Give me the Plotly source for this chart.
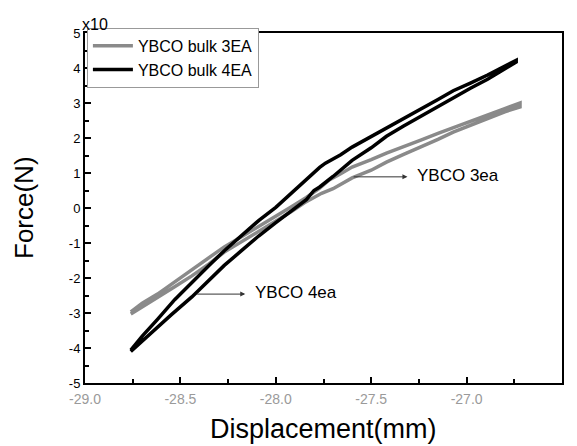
import plotly.graph_objects as go

# ---- data (force in units of x10 N) ----
# YBCO bulk 4EA : out along lower branch, back along upper branch
x4_lower = [-28.76, -28.70, -28.62, -28.55, -28.44, -28.35, -28.27, -28.18, -28.09, -28.00,
            -27.92, -27.84, -27.80, -27.77, -27.70, -27.60, -27.50, -27.42, -27.33, -27.24,
            -27.15, -27.07, -26.98, -26.89, -26.81, -26.74]
f4_lower = [-4.10, -3.80, -3.41, -3.06, -2.54, -2.08, -1.64, -1.22, -0.80, -0.42,
            -0.08, 0.24, 0.50, 0.60, 0.90, 1.36, 1.72, 2.05, 2.34, 2.62,
            2.90, 3.15, 3.42, 3.68, 3.93, 4.17]
x4_upper = [-26.74, -26.81, -26.89, -26.98, -27.07, -27.15, -27.24, -27.33, -27.42, -27.50,
            -27.60, -27.66, -27.70, -27.74, -27.77, -27.84, -27.92, -28.00, -28.09, -28.18,
            -28.27, -28.35, -28.44, -28.53, -28.62, -28.70, -28.76]
f4_upper = [4.22, 4.02, 3.80, 3.57, 3.35, 3.10, 2.83, 2.56, 2.29, 2.05,
            1.74, 1.52, 1.40, 1.28, 1.16, 0.82, 0.42, 0.02, -0.36, -0.78,
            -1.22, -1.64, -2.14, -2.62, -3.18, -3.66, -4.06]

# YBCO bulk 3EA
x3_lower = [-28.76, -28.70, -28.62, -28.53, -28.44, -28.35, -28.27, -28.18, -28.09, -28.00,
            -27.92, -27.85, -27.80, -27.76, -27.70, -27.60, -27.50, -27.42, -27.33, -27.24,
            -27.15, -27.07, -26.98, -26.89, -26.80, -26.72]
f3_lower = [-3.03, -2.83, -2.57, -2.25, -1.94, -1.60, -1.26, -0.96, -0.66, -0.38,
            -0.11, 0.15, 0.30, 0.42, 0.55, 0.86, 1.08, 1.31, 1.53, 1.74,
            1.96, 2.17, 2.37, 2.57, 2.75, 2.89]
x3_upper = [-26.72, -26.80, -26.89, -26.98, -27.07, -27.15, -27.24, -27.33, -27.42, -27.50,
            -27.60, -27.66, -27.72, -27.77, -27.84, -27.92, -28.00, -28.09, -28.18, -28.27,
            -28.35, -28.44, -28.53, -28.62, -28.70, -28.76]
f3_upper = [3.00, 2.84, 2.66, 2.48, 2.31, 2.13, 1.94, 1.76, 1.57, 1.38,
            1.17, 0.98, 0.80, 0.57, 0.30, 0.03, -0.24, -0.54, -0.82, -1.11,
            -1.42, -1.77, -2.10, -2.46, -2.72, -2.97]

x_ticks = [-29.0, -28.5, -28.0, -27.5, -27.0, -26.5]
y_ticks = [-5, -4, -3, -2, -1, 0, 1, 2, 3, 4, 5]

FONT = "Arial, Liberation Sans"

fig = go.Figure()
fig.add_trace(go.Scatter(x=x3_lower + x3_upper, y=f3_lower + f3_upper, mode="lines",
                         name="YBCO bulk 3EA", line=dict(color="#8a8a8a", width=3.5)))
fig.add_trace(go.Scatter(x=x4_lower + x4_upper, y=f4_lower + f4_upper, mode="lines",
                         name="YBCO bulk 4EA", line=dict(color="#000000", width=3.5)))

axis_common = dict(showgrid=False, zeroline=False, showline=True, linecolor="black",
                   linewidth=2, mirror=True, ticks="inside", ticklen=6, tickwidth=1.5,
                   tickcolor="black", automargin=False)

fig.update_xaxes(range=[-29, -26.5], tickvals=x_ticks, ticktext=[f"{v:.1f}" for v in x_ticks],
                 tickfont=dict(family=FONT, size=14, color="#9a9a9a"), ticklabelstandoff=2,
                 minor=dict(ticks="inside", ticklen=4, tickwidth=1.5, tickcolor="black", dtick=0.25),
                 **axis_common)
fig.update_yaxes(range=[-5, 5], tickvals=y_ticks, ticktext=[str(v) for v in y_ticks],
                 tickfont=dict(family=FONT, size=13, color="black"),
                 minor=dict(ticks="inside", ticklen=4, tickwidth=1.5, tickcolor="black", dtick=0.5),
                 **axis_common)

# axis titles as positioned text
fig.add_annotation(x=0.5, y=0, xref="paper", yref="paper", yshift=-46, text="Displacement(mm)",
                   showarrow=False, xanchor="center", yanchor="middle",
                   font=dict(family=FONT, size=27, color="black"))
fig.add_annotation(x=0, y=0.5, xref="paper", yref="paper", xshift=-61, text="Force(N)",
                   showarrow=False, xanchor="center", yanchor="middle", textangle=-90,
                   font=dict(family=FONT, size=26, color="black"))

# arrows and labels
fig.add_annotation(x=-27.31, y=0.89, ax=-27.60, ay=0.89, xref="x", yref="y", axref="x", ayref="y",
                   text="", showarrow=True, arrowhead=2, arrowsize=1, arrowwidth=1, arrowcolor="#333")
fig.add_annotation(x=-27.27, y=0.94, xref="x", yref="y", text="YBCO 3ea", showarrow=False,
                   xanchor="left", yanchor="middle",
                   font=dict(family=FONT, size=17, color="black"))
fig.add_annotation(x=-28.16, y=-2.46, ax=-28.42, ay=-2.46, xref="x", yref="y", axref="x", ayref="y",
                   text="", showarrow=True, arrowhead=2, arrowsize=1, arrowwidth=1, arrowcolor="#333")
fig.add_annotation(x=-28.12, y=-2.40, xref="x", yref="y", text="YBCO 4ea", showarrow=False,
                   xanchor="left", yanchor="middle",
                   font=dict(family=FONT, size=17, color="black"))
fig.add_annotation(x=0.0, y=1.0, xref="paper", yref="paper", text="x10", showarrow=False,
                   xanchor="left", yanchor="middle", xshift=-5, yshift=9,
                   font=dict(family=FONT, size=16, color="black"))

# page has an 8px body margin, so the figure is 8px smaller and shifted
fig.update_layout(
    width=569, height=438,
    margin=dict(l=77, r=15, t=25, b=63, autoexpand=False),
    paper_bgcolor="white", plot_bgcolor="white",
    font=dict(family=FONT, color="black"),
    showlegend=True,
    legend=dict(x=0.004, y=1.015, xanchor="left", yanchor="top",
                bgcolor="white", bordercolor="#999", borderwidth=1,
                font=dict(family=FONT, size=16, color="black"),
                tracegroupgap=0, itemwidth=40),
)

fig.write_html("out.html")
